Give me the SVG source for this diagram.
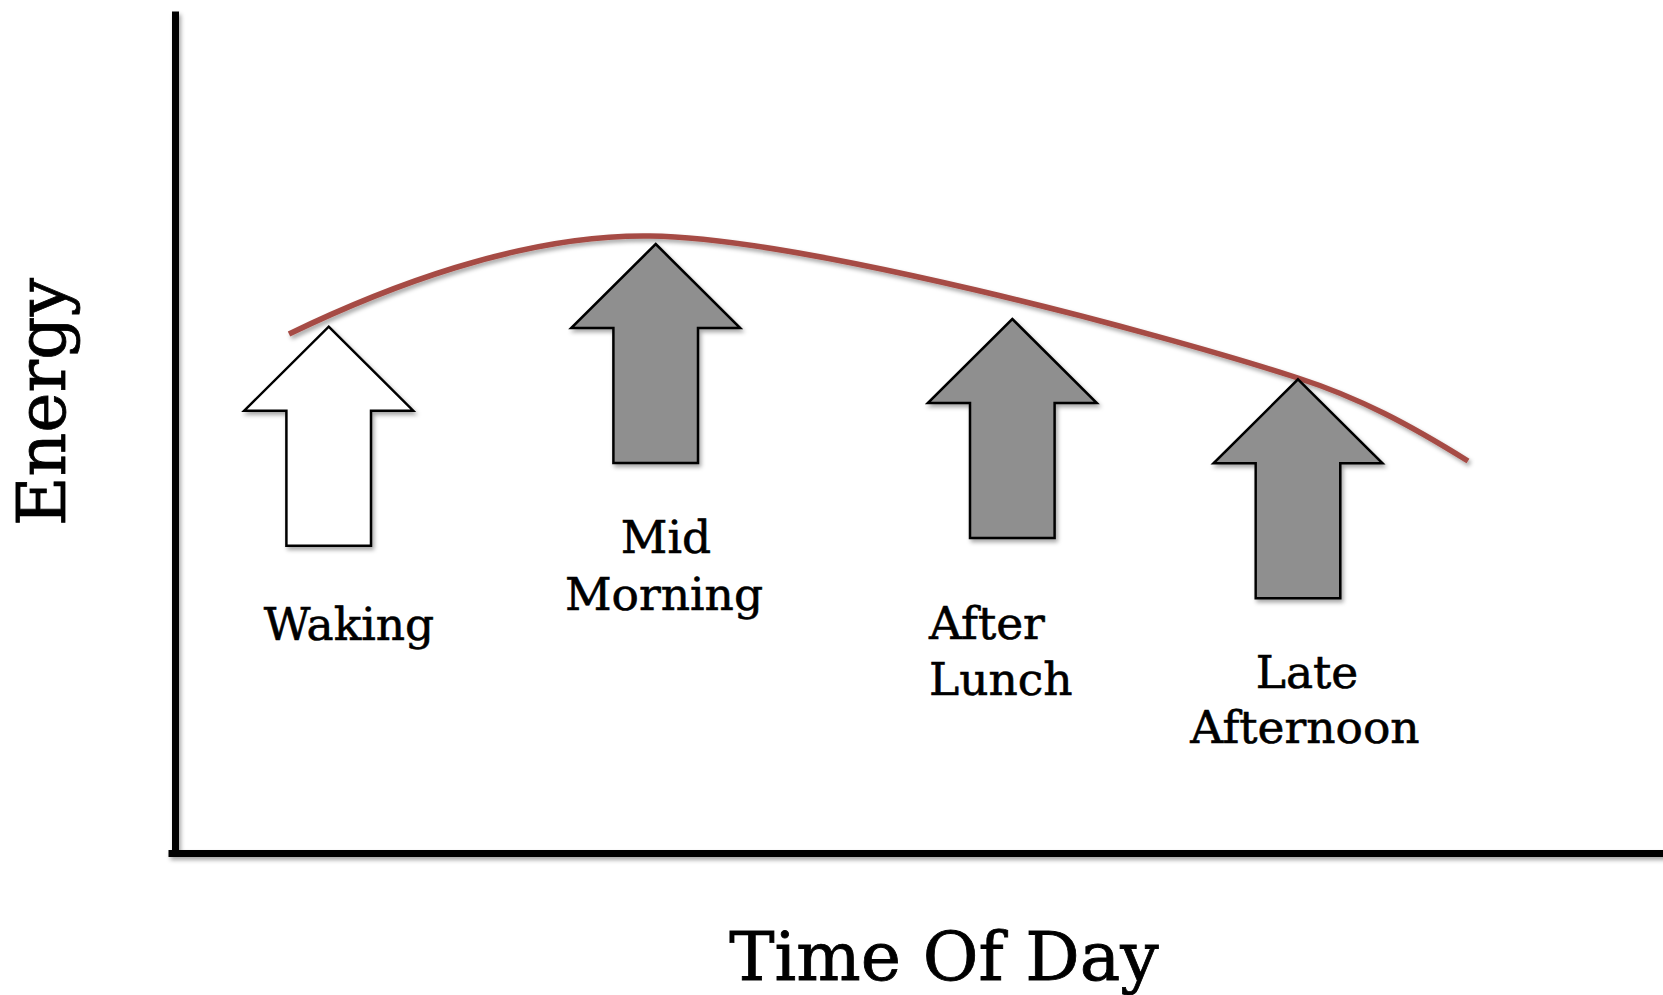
<svg xmlns="http://www.w3.org/2000/svg" width="1663" height="995" viewBox="0 0 1663 995">
  <style>
    .axis { stroke: #000; stroke-width: 7; fill: none; stroke-linecap: square; }
    .curve { stroke: #a64c45; stroke-width: 5.5; fill: none; }
    .arrow { stroke: #000; stroke-width: 2.5; stroke-linejoin: miter; }
    .white { fill: #ffffff; }
    .grey { fill: #8f8f8f; }
    .label { font-family: "DejaVu Serif", "Liberation Serif", serif; font-size: 45.5px; fill: #000; stroke: #000; stroke-width: 0.6; }
    .title { font-family: "DejaVu Serif", "Liberation Serif", serif; font-size: 68px; fill: #000; stroke: #000; stroke-width: 0.8; }
  </style>
  <defs>
    <filter id="shadow" x="-10%" y="-10%" width="130%" height="130%">
      <feDropShadow dx="2" dy="3" stdDeviation="2" flood-color="#000" flood-opacity="0.35"/>
    </filter>
    <!-- block arrow pointing up, tip at the origin -->
    <path id="upArrow" d="M0,0 L84.5,84 L42.3,84 L42.3,219 L-42.3,219 L-42.3,84 L-84.5,84 Z"/>
  </defs>

  <rect width="1663" height="995" fill="#ffffff"/>

  <!-- axes -->
  <g id="axes" filter="url(#shadow)">
    <line class="axis" x1="175.5" y1="15" x2="175.5" y2="853.5"/>
    <line class="axis" x1="172" y1="853.5" x2="1670" y2="853.5"/>
  </g>

  <!-- axis titles -->
  <text id="y-title" class="title" text-anchor="middle" transform="translate(65,402) rotate(-90)">Energy</text>
  <text id="x-title" class="title" text-anchor="middle" x="944" y="980">Time Of Day</text>

  <!-- energy curve -->
  <g id="connectors" filter="url(#shadow)">
    <path class="curve" d="M289,334 C380,290 520,234 650,236 C800,238 1150,330 1298,378 C1360,398 1410,425 1468,461"/>
  </g>

  <g id="waking">
    <use href="#upArrow" class="arrow white" filter="url(#shadow)" transform="translate(328.7,326.7)"/>
    <text class="label" text-anchor="middle" x="349" y="640">Waking</text>
  </g>

  <g id="mid-morning">
    <use href="#upArrow" class="arrow grey" filter="url(#shadow)" transform="translate(655.7,244)"/>
    <text class="label" text-anchor="middle" x="666" y="553">Mid</text>
    <text class="label" text-anchor="middle" x="664" y="610">Morning</text>
  </g>

  <g id="after-lunch">
    <use href="#upArrow" class="arrow grey" filter="url(#shadow)" transform="translate(1012.3,319)"/>
    <text class="label" x="929" y="639">After</text>
    <text class="label" x="929" y="695">Lunch</text>
  </g>

  <g id="late-afternoon">
    <use href="#upArrow" class="arrow grey" filter="url(#shadow)" transform="translate(1298,379.3)"/>
    <text class="label" text-anchor="middle" x="1307" y="688">Late</text>
    <text class="label" text-anchor="middle" x="1305" y="743">Afternoon</text>
  </g>
</svg>
